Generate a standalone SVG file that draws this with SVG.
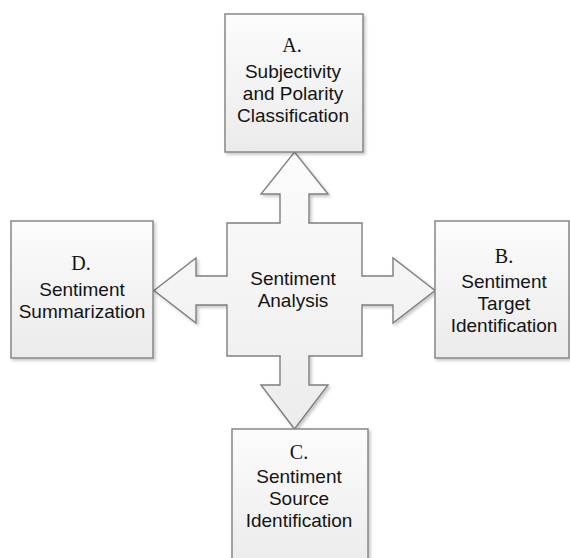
<svg xmlns="http://www.w3.org/2000/svg" width="570" height="558" viewBox="0 0 570 558">
  <defs>
    <linearGradient id="boxFill" x1="0" y1="0" x2="0" y2="1">
      <stop offset="0" stop-color="#fcfcfc"/>
      <stop offset="1" stop-color="#ebebeb"/>
    </linearGradient>
    <linearGradient id="crossFill" gradientUnits="userSpaceOnUse" x1="0" y1="152" x2="0" y2="429">
      <stop offset="0" stop-color="#fcfcfc"/>
      <stop offset="1" stop-color="#ececec"/>
    </linearGradient>
    <filter id="shadow" x="-10%" y="-10%" width="130%" height="130%">
      <feDropShadow dx="2" dy="2" stdDeviation="1.5" flood-color="#000" flood-opacity="0.22"/>
    </filter>
  </defs>
  <style>
    .box { fill: url(#boxFill); stroke: #7f7f7f; stroke-width: 1.4; }
    .arrow { fill: url(#crossFill); stroke: #7f7f7f; stroke-width: 1.4; stroke-linejoin: miter; }
    .outline { fill: none; stroke: #7f7f7f; stroke-width: 1.4; stroke-linecap: square; }
    .lbl { font-family: "Liberation Sans", Arial, sans-serif; font-size: 19px; fill: #141414; text-anchor: middle; }
    .ltr { font-family: "Liberation Serif", "Times New Roman", serif; font-size: 20px; fill: #141414; text-anchor: middle; }
  </style>

  <g id="connectors" filter="url(#shadow)">
    <polygon class="arrow" points="280,227 280,194 261,194 294.5,152 328,194 309,194 309,227"/>
    <polygon class="arrow" points="358,276 393,276 393,258 435,290.5 393,323 393,305 358,305"/>
    <polygon class="arrow" points="309,352 309,385 328,385 294.5,429 261,385 280,385 280,352"/>
    <polygon class="arrow" points="231,305 196,305 196,323 154,290.5 196,258 196,276 231,276"/>
  </g>

  <g id="node-center">
    <rect x="227" y="223" width="135" height="133" fill="url(#crossFill)"/>
    <path class="outline" d="M280,223 H227 V276 M227,305 V356 H280 M309,356 H362 V305 M362,276 V223 H309"/>
    <text class="lbl" x="293" y="285">Sentiment</text>
    <text class="lbl" x="293" y="307">Analysis</text>
  </g>

  <g id="node-A">
    <rect class="box" x="225" y="14" width="138" height="138" filter="url(#shadow)"/>
    <text class="ltr" x="292" y="52">A.</text>
    <text class="lbl" x="293" y="78">Subjectivity</text>
    <text class="lbl" x="293" y="100">and Polarity</text>
    <text class="lbl" x="293" y="122">Classification</text>
  </g>

  <g id="node-B">
    <rect class="box" x="435" y="221" width="134" height="137" filter="url(#shadow)"/>
    <text class="ltr" x="504" y="263">B.</text>
    <text class="lbl" x="504" y="288">Sentiment</text>
    <text class="lbl" x="504" y="310">Target</text>
    <text class="lbl" x="504" y="332">Identification</text>
  </g>

  <g id="node-C">
    <rect class="box" x="232" y="429" width="136" height="140" filter="url(#shadow)"/>
    <text class="ltr" x="299" y="459">C.</text>
    <text class="lbl" x="299" y="483">Sentiment</text>
    <text class="lbl" x="299" y="505">Source</text>
    <text class="lbl" x="299" y="527">Identification</text>
  </g>

  <g id="node-D">
    <rect class="box" x="11" y="221" width="142" height="137" filter="url(#shadow)"/>
    <text class="ltr" x="81" y="270">D.</text>
    <text class="lbl" x="82" y="296">Sentiment</text>
    <text class="lbl" x="82" y="318">Summarization</text>
  </g>
</svg>
